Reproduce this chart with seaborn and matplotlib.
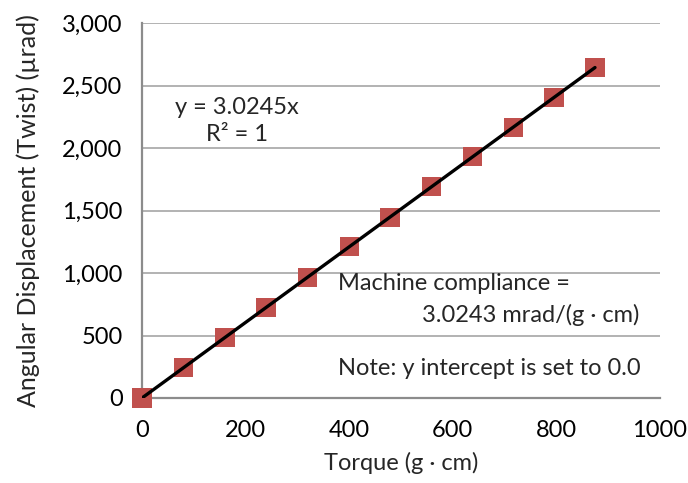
import numpy as np
import pandas as pd
import seaborn as sns
import matplotlib.pyplot as plt
from matplotlib.ticker import FuncFormatter

torque = [0, 79.8, 160.2, 239.4, 319.7, 400, 478.8, 559.3, 638.5, 716.8, 795.4, 874.5]
twist = [0, 241, 485, 724, 967, 1210, 1448, 1692, 1931, 2168, 2406, 2645]
slope = 3.0245

x_ticks = [0, 200, 400, 600, 800, 1000]
y_ticks = [0, 500, 1000, 1500, 2000, 2500, 3000]

df = pd.DataFrame({"torque": torque, "twist": twist})
fit = pd.DataFrame({"torque": [0, max(torque)]})
fit["twist"] = slope * fit["torque"]

sns.set_style("white")
plt.rcParams["font.family"] = ["Lato", "DejaVu Sans"]

fs = 17
fig = plt.figure(figsize=(6.88, 4.83), dpi=100)
ax = fig.add_axes([0.2064, 0.176, 0.7529, 0.776])

grey = "#8c8c8c"
ax.yaxis.grid(True, color="#a6a6a6", linewidth=1.2)
ax.set_axisbelow(True)

sns.scatterplot(data=df, x="torque", y="twist", marker="s", s=190,
                color="#c0504d", edgecolor="none", ax=ax, zorder=3, clip_on=False)
sns.lineplot(data=fit, x="torque", y="twist", color="black", linewidth=2.4,
             ax=ax, zorder=4)

ax.set_xlim(0, 1000)
ax.set_ylim(0, 3000)
ax.set_xticks(x_ticks)
ax.set_yticks(y_ticks)
ax.yaxis.set_major_formatter(FuncFormatter(lambda v, p: f"{v:,.0f}"))

for side in ["top", "right"]:
    ax.spines[side].set_visible(False)
for side in ["left", "bottom"]:
    ax.spines[side].set_color(grey)
    ax.spines[side].set_linewidth(1.6)

ax.tick_params(axis="both", which="major", length=5, width=1.4, color=grey,
               direction="out", labelsize=fs, labelcolor="black")
ax.tick_params(axis="y", pad=9)
ax.tick_params(axis="x", pad=11)

ax.set_xlabel("Torque (g · cm)", fontsize=fs, labelpad=8)
ax.set_ylabel("Angular Displacement (Twist) (µrad)", fontsize=fs + 1, labelpad=16)

ax.text(183, 2216, "y = 3.0245x\nR² = 1", ha="center", va="center",
        fontsize=fs, linespacing=1.35)
ax.text(378, 920, "Machine compliance =", ha="left", va="center", fontsize=fs)
ax.text(961, 664, "3.0243 mrad/(g · cm)", ha="right", va="center", fontsize=fs)
ax.text(378, 240, "Note: y intercept is set to 0.0", ha="left", va="center", fontsize=fs)

fig.savefig("out.png", dpi=100)
